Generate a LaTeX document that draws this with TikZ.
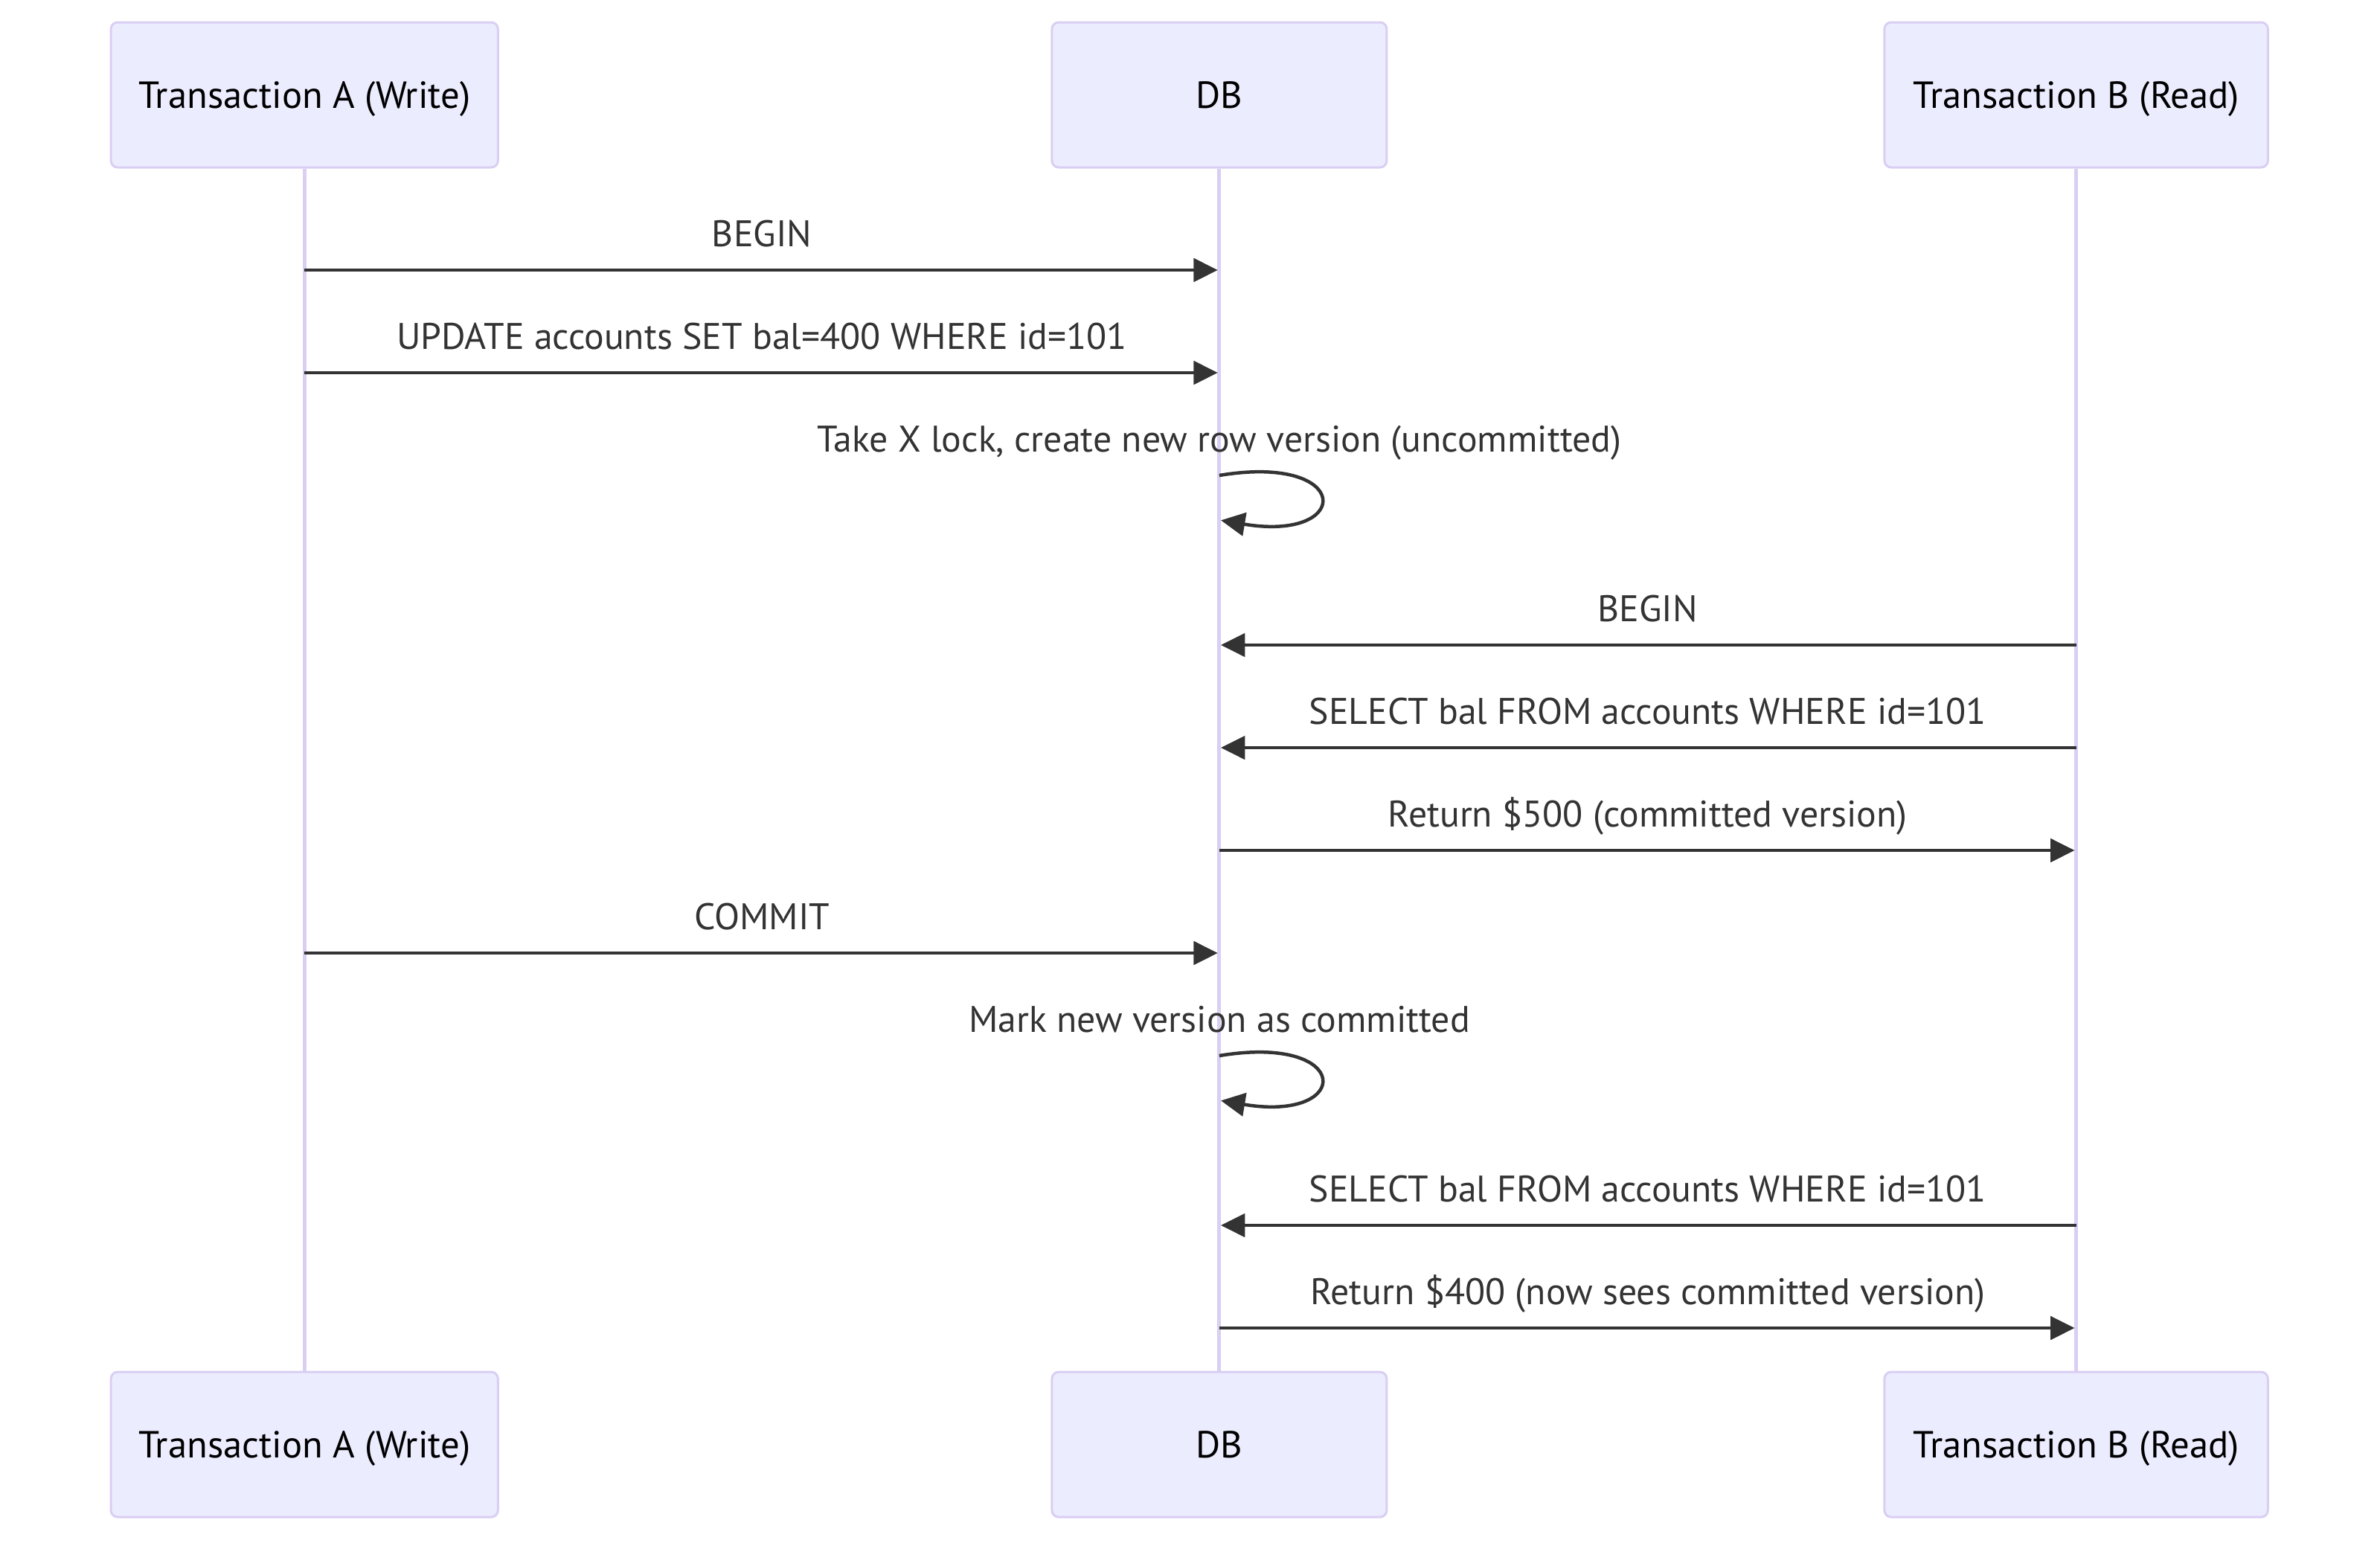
\documentclass[tikz,border=0pt]{standalone}
\usepackage{fontspec}
\setmainfont{PT Sans}
\usepackage{tikz}
\usetikzlibrary{positioning,arrows.meta}
\definecolor{actorfill}{HTML}{ECECFF}
\definecolor{actorline}{HTML}{DACEF3}
\definecolor{msgline}{HTML}{333333}
\tikzstyle{actor}=[draw=actorline, line width=1pt, fill=actorfill, rounded corners=3pt, minimum width=150pt, minimum height=65pt, inner sep=0pt, text height=11.8pt, text depth=0pt, font=\fontsize{16.9}{20}\selectfont]
\tikzstyle{life}=[draw=actorline, line width=1.7pt]
\tikzstyle{msg}=[draw=msgline, line width=1.5pt, -{Triangle[length=10.8pt,width=10.4pt]}, shorten >=0.7pt]
\tikzstyle{lbl}=[text=msgline, inner sep=0pt, text height=11.6pt, text depth=0pt, yshift=16.4pt, font=\fontsize{16.6}{20}\selectfont]

\begin{document}
\begin{tikzpicture}[x=1pt,y=-1pt]
\useasboundingbox (0,0) rectangle (1066.33,691);
\node[actor, minimum width=173.4pt] (aT) at (136.4,42.5) {Transaction A (Write)};
\node[actor] (dT) at (546.3,42.5) {DB};
\node[actor, minimum width=171.8pt] (bT) at (930.2,42.5) {Transaction B (Read)};
\node[actor, minimum width=173.4pt] (aB) at (136.4,647.2) {Transaction A (Write)};
\node[actor] (dB) at (546.3,647.2) {DB};
\node[actor, minimum width=171.8pt] (bB) at (930.2,647.2) {Transaction B (Read)};
\draw[life] (aT) -- (aB);
\draw[life] (dT) -- (dB);
\draw[life] (bT) -- (bB);
% message rows on the lifelines
\foreach \n/\y in {1/121,2/167,3/213,3e/233,4/289,5/335,6/381,7/427,8/473,8e/493,9/549,10/595} {
	\coordinate (a\n) at (aT.center |- 0,\y);
	\coordinate (d\n) at (dT.center |- 0,\y);
	\coordinate (b\n) at (bT.center |- 0,\y);
}
\draw[msg] (a1) -- node[lbl] (l1) {BEGIN} (d1);
\draw[msg] (a2) -- node[lbl] (l2) {UPDATE accounts SET bal=400 WHERE id=101} (d2);
\draw[msg] (d3) node[lbl] (l3) {Take X lock, create new row version (uncommitted)} .. controls +(60,-10) and +(60,10) .. (d3e);
\draw[msg] (b4) -- node[lbl] (l4) {BEGIN} (d4);
\draw[msg] (b5) -- node[lbl] (l5) {SELECT bal FROM accounts WHERE id=101} (d5);
\draw[msg] (d6) -- node[lbl] (l6) {Return \$500 (committed version)} (b6);
\draw[msg] (a7) -- node[lbl] (l7) {COMMIT} (d7);
\draw[msg] (d8) node[lbl] (l8) {Mark new version as committed} .. controls +(60,-10) and +(60,10) .. (d8e);
\draw[msg] (b9) -- node[lbl] (l9) {SELECT bal FROM accounts WHERE id=101} (d9);
\draw[msg] (d10) -- node[lbl] (l10) {Return \$400 (now sees committed version)} (b10);
\end{tikzpicture}
\end{document}
